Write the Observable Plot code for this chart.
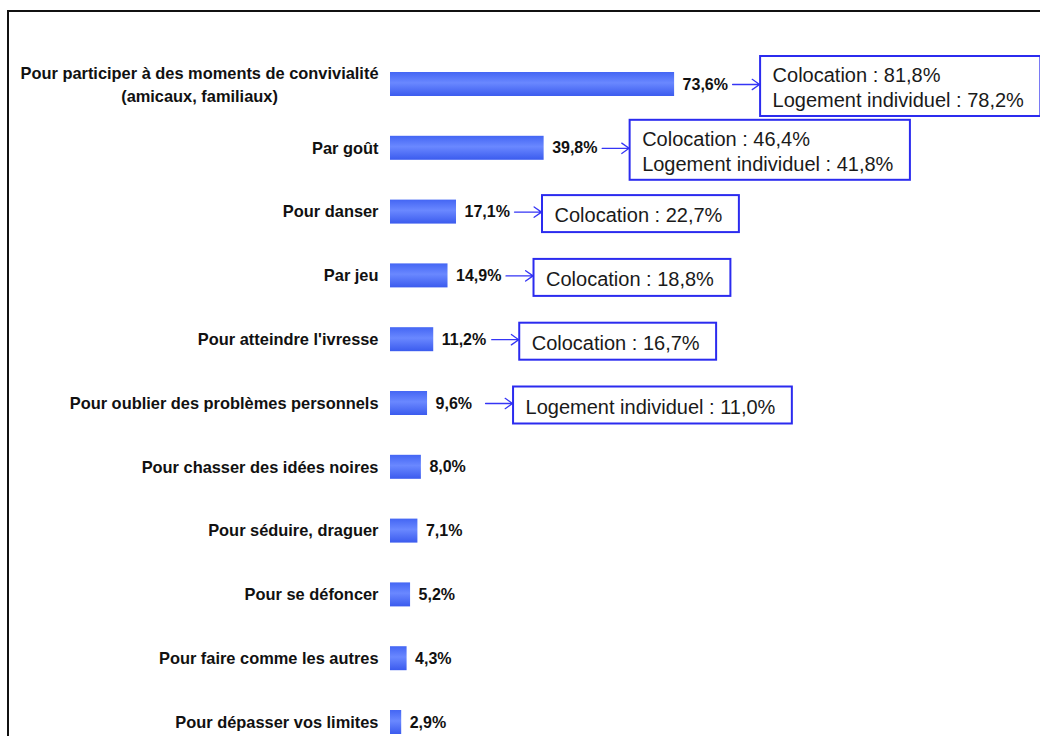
<!DOCTYPE html>
<html>
<head>
<meta charset="utf-8">
<script src="https://cdn.jsdelivr.net/npm/d3@7"></script>
<script src="https://cdn.jsdelivr.net/npm/@observablehq/plot@0.6"></script>
<style>
  html, body { margin: 0; padding: 0; background: #fff; overflow: hidden; }
  #wrap { position: relative; width: 1040px; height: 736px; overflow: hidden; }
  #frame { position: absolute; left: 7px; top: 10px; width: 1100px; height: 800px;
           border-left: 2px solid #111; border-top: 2px solid #111; pointer-events: none; }
  #chart { position: absolute; left: 0; top: 0; }
</style>
</head>
<body>
<div id="wrap"><div id="frame"></div><div id="chart"></div></div>
<script>
// ---- data ----
const categories = [
  "Pour participer à des moments de convivialité\n(amicaux, familiaux)",
  "Par goût",
  "Pour danser",
  "Par jeu",
  "Pour atteindre l'ivresse",
  "Pour oublier des problèmes personnels",
  "Pour chasser des idées noires",
  "Pour séduire, draguer",
  "Pour se défoncer",
  "Pour faire comme les autres",
  "Pour dépasser vos limites"
];
const values = [73.6, 39.8, 17.1, 14.9, 11.2, 9.6, 8.0, 7.1, 5.2, 4.3, 2.9];

// annotations (by category index)
const annotIndex = [0, 1, 2, 3, 4, 5];
const colocation = [81.8, 46.4, 22.7, 18.8, 16.7, null];
const logementIndividuel = [78.2, 41.8, null, null, null, 11.0];

// ---- helpers ----
const fmt = v => v.toFixed(1).replace(".", ",") + "%";
const FONT = "'Liberation Sans', Arial, sans-serif";
const LABEL_SIZE = 16.4;
const canvas = document.createElement("canvas");
const ctx = canvas.getContext("2d");
function measure(text, font) { ctx.font = font; return ctx.measureText(text).width; }

const rows = categories.map((c, i) => ({cat: c, v: values[i]}));
const singleRows = rows.filter(d => !d.cat.includes("\n"));
const multiRows = rows.filter(d => d.cat.includes("\n"));

const W = 1040, H = 736, ML = 390, MR = 264;
const pxToX = px => px * 100 / (W - ML - MR);

const annots = annotIndex.map((ci, j) => {
  const lines = [];
  if (colocation[j] != null) lines.push("Colocation : " + fmt(colocation[j]));
  if (logementIndividuel[j] != null) lines.push("Logement individuel : " + fmt(logementIndividuel[j]));
  const w = d3.max(lines, l => measure(l, "20px " + FONT)) + 29;
  return {cat: categories[ci], v: values[ci], text: lines.join("\n"), n: lines.length, w};
});

const line1Width = d => measure(d.cat.split("\n")[0], "bold " + LABEL_SIZE + "px " + FONT);

const defs = () => {
  const d = d3.create("svg:defs");
  const g = d.append("linearGradient").attr("id", "barGrad")
    .attr("x1", 0).attr("y1", 0).attr("x2", 0).attr("y2", 1);
  g.append("stop").attr("offset", "0%").attr("stop-color", "#4466f4");
  g.append("stop").attr("offset", "45%").attr("stop-color", "#6a88ff");
  g.append("stop").attr("offset", "100%").attr("stop-color", "#3b5bee");
  return d.node();
};

const boxMark = (n, h) => Plot.barX(annots.filter(d => d.n === n), {
  x1: d => d.v + pxToX(86),
  x2: d => d.v + pxToX(86 + d.w),
  y: "cat",
  insetTop: -(h - 24) / 2, insetBottom: -(h - 24) / 2, dy: 2,
  fill: "white", stroke: "#2b2bef", strokeWidth: 2
});

const chart = Plot.plot({
  width: W, height: H,
  marginLeft: ML, marginRight: MR, marginTop: 72, marginBottom: 2,
  style: {background: "transparent", fontFamily: FONT, color: "#111"},
  x: {domain: [0, 100], axis: null},
  y: {type: "band", domain: categories, paddingInner: 0.624, paddingOuter: 0, align: 0.5, round: false, axis: null},
  marks: [
    defs,
    Plot.barX(rows, {x: "v", y: "cat", fill: "url(#barGrad)"}),
    Plot.text(rows, {x: "v", y: "cat", text: d => fmt(d.v), textAnchor: "start", dx: 8,
      fontSize: 16, fontWeight: "bold", fill: "#111"}),
    // category labels
    Plot.text(singleRows, {x: 0, y: "cat", text: "cat", textAnchor: "end", dx: -12,
      fontSize: LABEL_SIZE, fontWeight: "bold", fill: "#111"}),
    Plot.text(multiRows, {x: 0, y: "cat", text: d => d.cat.split("\n")[0], textAnchor: "end", dx: -12, dy: -11,
      fontSize: LABEL_SIZE, fontWeight: "bold", fill: "#111"}),
    ...multiRows.map(r => Plot.text([r], {x: 0, y: "cat", text: d => d.cat.split("\n")[1], textAnchor: "middle",
      dx: -12 - line1Width(r) / 2, dy: 12, fontSize: LABEL_SIZE, fontWeight: "bold", fill: "#111"})),
    // arrows
    Plot.arrow(annots, {x1: d => d.v + pxToX(58), x2: d => d.v + pxToX(85), y1: "cat", y2: "cat",
      stroke: "#3535f5", strokeWidth: 1.3, headLength: 11, headAngle: 70}),
    // boxes
    boxMark(1, 37),
    boxMark(2, 60),
    Plot.text(annots, {x: d => d.v + pxToX(86), y: "cat", text: "text", textAnchor: "start", dx: 12, dy: 2,
      fontSize: 20, lineHeight: 1.25, fill: "#1a1a1a"})
  ]
});
document.getElementById("chart").appendChild(chart);
</script>
</body>
</html>
